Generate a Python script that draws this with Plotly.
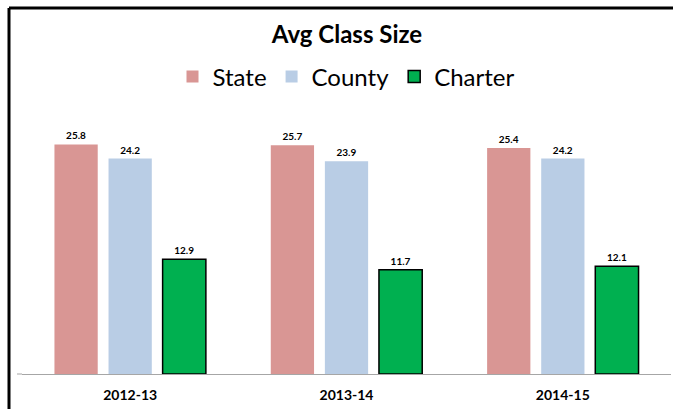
import plotly.graph_objects as go

categories = ["2012-13", "2013-14", "2014-15"]
state = [25.8, 25.7, 25.4]
county = [24.2, 23.9, 24.2]
charter = [12.9, 11.7, 12.1]

W, H = 673, 409
L, R, T, B = 22, 2, 107, 35
ph = H - T - B
pw = W - L - R

fig = go.Figure()
fig.add_trace(go.Bar(name="State", x=categories, y=state,
                     marker=dict(color="#D99694", line=dict(width=0)),
                     text=[f"{v:.1f}" for v in state], textposition="outside",
                     cliponaxis=False))
fig.add_trace(go.Bar(name="County", x=categories, y=county,
                     marker=dict(color="#B9CDE5", line=dict(width=0)),
                     text=[f"{v:.1f}" for v in county], textposition="outside",
                     cliponaxis=False))
fig.add_trace(go.Bar(name="Charter", x=categories, y=charter,
                     marker=dict(color="#00B050", line=dict(width=1.5, color="#000000")),
                     text=[f"{v:.1f}" for v in charter], textposition="outside",
                     cliponaxis=False))

fig.update_traces(textfont=dict(family="Lato", size=10, color="#000000", weight="bold"))

fig.update_layout(
    width=W, height=H,
    margin=dict(l=L, r=R, t=T, b=B, pad=0),
    paper_bgcolor="white", plot_bgcolor="white",
    barmode="group", bargap=0.25, bargroupgap=0.2,
    font=dict(family="Lato", color="#000000"),
    title=dict(text="<b>Avg Class Size</b>", x=(347 - L) / pw, xref="paper", xanchor="center",
               y=1 - 35 / H, yref="container", yanchor="middle",
               font=dict(family="Lato", size=24, color="#000000")),
    legend=dict(orientation="h", x=(346 - L) / pw, xanchor="center", y=1 + (T - 77) / ph, yanchor="middle",
                font=dict(family="Lato", size=24, color="#000000"),
                bgcolor="rgba(0,0,0,0)", traceorder="normal"),
    xaxis=dict(showgrid=False, zeroline=False, showline=True, linecolor="#A6A6A6", linewidth=1,
               ticks="outside", ticklen=8, tickcolor="rgba(0,0,0,0)",
               tickfont=dict(family="Lato", size=14, color="#000000", weight="bold")),
    yaxis=dict(range=[0, 30], visible=False, showgrid=False, zeroline=False),
    shapes=[
        dict(type="line", xref="paper", yref="paper",
             x0=(9 - L) / pw, x1=1.1, y0=1 + (T - 8) / ph, y1=1 + (T - 8) / ph,
             line=dict(color="#000000", width=3)),
        dict(type="line", xref="paper", yref="paper",
             x0=(9 - L) / pw, x1=(9 - L) / pw, y0=1 + (T - 8) / ph, y1=-0.3,
             line=dict(color="#000000", width=3)),
        dict(type="line", xref="paper", yref="paper",
             x0=(17 - L) / pw, x1=0, y0=0, y1=0,
             line=dict(color="#A6A6A6", width=1)),
    ],
)

fig.write_html("out.html", config={"displayModeBar": False},
               post_script="document.body.style.margin='0';")
